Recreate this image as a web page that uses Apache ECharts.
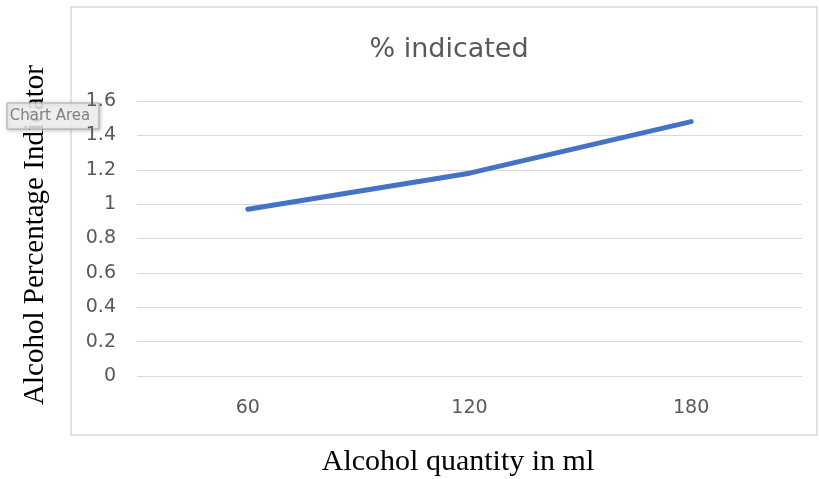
<!DOCTYPE html>
<html>
<head>
<meta charset="utf-8">
<script src="https://cdn.jsdelivr.net/npm/echarts@6/dist/echarts.min.js"></script>
<style>
  html, body { margin: 0; padding: 0; background: #ffffff; }
  #chart { width: 819px; height: 479px; }
</style>
</head>
<body>
<div id="chart"></div>
<script>
// Alcohol quantity (ml) against the indicated percentage
const quantities = ['60', '120', '180'];
const indicated = [0.97, 1.18, 1.48];
const yTicks = { min: 0, max: 1.6, step: 0.2 };

const labelGray = '#595959';
const gridGray = '#d9d9d9';

const chart = echarts.init(document.getElementById('chart'));
chart.setOption({
  animation: false,
  backgroundColor: '#ffffff',
  title: {
    text: '% indicated',
    left: 444,
    top: 31,
    textAlign: 'center',
    textStyle: {
      fontFamily: 'DejaVu Sans',
      fontSize: 27,
      fontWeight: 'normal',
      color: labelGray
    }
  },
  grid: { left: 137, right: 17, top: 101, bottom: 103 },
  xAxis: {
    type: 'category',
    data: quantities,
    boundaryGap: true,
    axisLine: { show: false },
    axisTick: { show: false },
    axisLabel: {
      color: labelGray,
      fontFamily: 'DejaVu Sans',
      fontSize: 19,
      margin: 23
    }
  },
  yAxis: {
    type: 'value',
    min: yTicks.min,
    max: yTicks.max,
    interval: yTicks.step,
    axisLine: { show: false },
    axisTick: { show: false },
    splitLine: { lineStyle: { color: gridGray, width: 1 } },
    axisLabel: {
      color: labelGray,
      fontFamily: 'DejaVu Sans',
      fontSize: 19,
      margin: 21,
      formatter: v => String(Math.round(v * 10) / 10)
    }
  },
  series: [{
    type: 'line',
    data: indicated,
    symbol: 'none',
    lineStyle: { color: '#4472C4', width: 5, cap: 'round' }
  }],
  graphic: [
    {
      type: 'rect',
      shape: { x: 71, y: 7, width: 746, height: 428 },
      style: { fill: 'none', stroke: gridGray, lineWidth: 1.5 },
      z: -1
    },
    {
      type: 'text',
      x: 458,
      y: 462,
      style: {
        text: 'Alcohol quantity in ml',
        font: '30px "Liberation Serif", "Times New Roman", serif',
        fill: '#000000',
        align: 'center',
        verticalAlign: 'middle'
      }
    },
    {
      type: 'text',
      x: 35,
      y: 235,
      rotation: Math.PI / 2,
      style: {
        text: 'Alcohol Percentage Indicator',
        font: '29px "Liberation Serif", "Times New Roman", serif',
        fill: '#000000',
        align: 'center',
        verticalAlign: 'middle'
      }
    },
    {
      type: 'group',
      z: 100,
      children: [
        {
          type: 'rect',
          shape: { x: 7, y: 103, width: 92, height: 26 },
          style: {
            fill: 'rgba(245,245,245,0.85)',
            stroke: '#a6a6a6',
            lineWidth: 1,
            shadowBlur: 4,
            shadowOffsetX: 1,
            shadowOffsetY: 1,
            shadowColor: 'rgba(0,0,0,0.25)'
          }
        },
        {
          type: 'text',
          x: 50,
          y: 116,
          style: {
            text: 'Chart Area',
            font: '15px "DejaVu Sans", sans-serif',
            fill: '#808080',
            align: 'center',
            verticalAlign: 'middle'
          }
        }
      ]
    }
  ]
});
</script>
</body>
</html>
